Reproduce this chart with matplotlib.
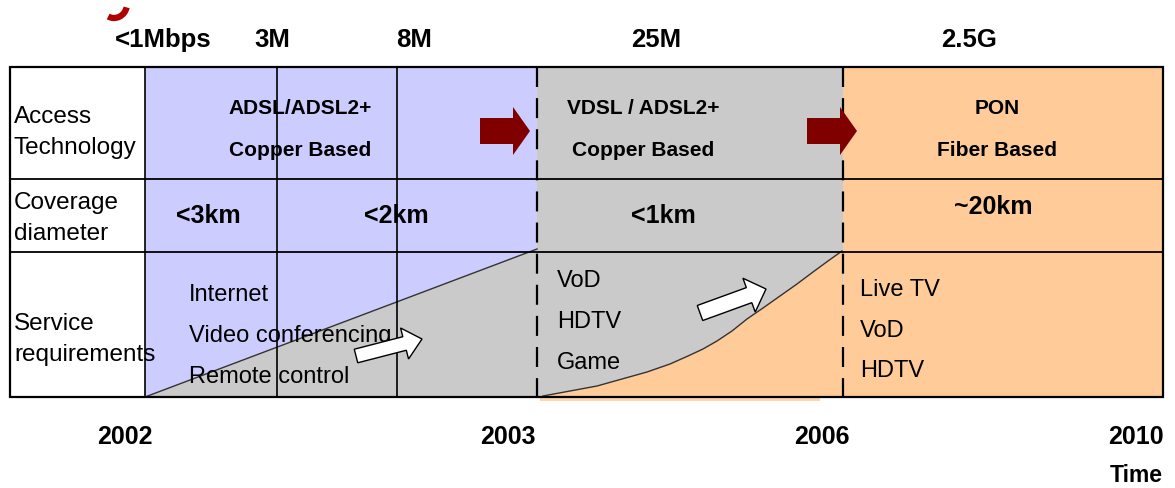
import matplotlib
matplotlib.use("Agg")
import matplotlib.pyplot as plt
from matplotlib.patches import Polygon, Rectangle, FancyArrow, Arc

# ---------------- data ----------------
speed_labels = ["<1Mbps", "3M", "8M", "25M", "2.5G"]
speed_x = [163, 272, 414, 656, 969]
year_labels = ["2002", "2003", "2006", "2010"]
year_x = [125, 508, 822, 1136]
row_labels = [["Access", "Technology"], ["Coverage", "diameter"], ["Service", "requirements"]]
era_tech = [["ADSL/ADSL2+", "Copper Based"], ["VDSL / ADSL2+", "Copper Based"], ["PON", "Fiber Based"]]
era_tech_x = [300, 643, 997]
coverage = ["<3km", "<2km", "<1km", "~20km"]
coverage_x = [208, 396, 663, 993]
coverage_y = [216, 216, 216, 207]
services = [["Internet", "Video conferencing", "Remote control"],
            ["VoD", "HDTV", "Game"],
            ["Live TV", "VoD", "HDTV"]]
services_x = [189, 557, 860]
services_y = [[295, 336, 377], [281, 322, 363], [290, 331, 371]]

# layout of the table (pixels)
table_left, table_right = 10, 1163
table_top, table_bottom = 68, 398
row_lines = [180, 253]
label_col = 145
solid_cols = [277, 397]
dashed_cols = [537, 843]
# transition curve gray -> orange in service row
curve_x = [543, 570, 597, 622, 647, 670, 688, 703, 717, 732, 747, 763, 780, 797, 813, 828, 842]
curve_y = [397, 392, 387, 380, 373, 365, 357, 350, 342, 332, 320, 309, 297, 285, 273, 262, 252]

blue = "#CCCCFF"
gray = "#CACACA"
orange = "#FFCC99"

narrow = ["Liberation Sans Narrow", "Liberation Sans", "DejaVu Sans"]
regular = ["Liberation Sans", "DejaVu Sans"]
plt.rcParams["font.family"] = regular

fig = plt.figure(figsize=(11.75, 4.89), dpi=100)
ax = fig.add_axes([0, 0, 1, 1])
ax.set_xlim(0, 1175)
ax.set_ylim(489, 0)
ax.axis("off")

# ---------------- fills ----------------
x0, x1, x2, x3 = label_col, dashed_cols[0], dashed_cols[1], table_right
ax.add_patch(Polygon([(x0, table_top), (x1, table_top), (x1, row_lines[1] - 3), (x0, table_bottom)],
                     closed=True, fc=blue, ec="none", zorder=1))
ax.add_patch(Polygon([(x0, table_bottom), (x1, row_lines[1] - 3), (x1, table_bottom)],
                     closed=True, fc=gray, ec="none", zorder=1))
ax.add_patch(Rectangle((x1, table_top), x2 - x1, table_bottom - table_top, fc=gray, ec="none", zorder=1))
ax.add_patch(Polygon(list(zip(curve_x, curve_y)) + [(x2, table_bottom)],
                     closed=True, fc=orange, ec="none", zorder=1))
ax.add_patch(Rectangle((x2, table_top), x3 - x2, table_bottom - table_top, fc=orange, ec="none", zorder=1))
# slight orange bleed below the bottom border
ax.add_patch(Rectangle((x1 + 3, table_bottom), 280, 4, fc=orange, ec="none", alpha=0.8, zorder=1))

# transition lines
ax.plot([x0, x1], [table_bottom, row_lines[1] - 3], color="#333333", lw=1.0, zorder=2)
ax.plot(curve_x, curve_y, color="#333333", lw=1.0, zorder=2)

# ---------------- grid ----------------
ax.add_patch(Rectangle((table_left, table_top), table_right - table_left, table_bottom - table_top,
                       fc="none", ec="black", lw=1.6, zorder=4))
for y in row_lines:
    ax.plot([table_left, table_right], [y, y], color="black", lw=1.3, zorder=4)
for x in [label_col] + solid_cols:
    ax.plot([x, x], [table_top, table_bottom], color="black", lw=1.2, zorder=4)
for x in dashed_cols:
    ax.plot([x, x], [table_top, table_bottom], color="black", lw=1.6, zorder=4,
            linestyle=(0, (9, 5)))

# ---------------- arrows ----------------
for ax_x in [480, 807]:
    ax.add_patch(FancyArrow(ax_x, 132, 50, 0, width=26, head_width=48, head_length=17,
                            length_includes_head=True, fc="#800000", ec="none", zorder=5))
for (sx, sy, dx, dy, w, hw) in [(356, 357, 66, -17, 14, 32), (700, 314, 66, -24, 16, 36)]:
    ax.add_patch(FancyArrow(sx, sy, dx, dy, width=w, head_width=hw, head_length=18,
                            length_includes_head=True, fc="white", ec="black", lw=1.0, zorder=6))

# small red mark top-left (remnant of a logo)
ax.add_patch(Arc((114, 5), 26, 28, theta1=15, theta2=115, color="#B00000", lw=4.5, zorder=3))

# ---------------- text ----------------
for lab, x in zip(speed_labels, speed_x):
    ax.text(x, 40, lab, ha="center", va="center", fontsize=18.5, fontweight="bold", family=narrow)
for lab, x in zip(year_labels, year_x):
    ax.text(x, 437, lab, ha="center", va="center", fontsize=18, fontweight="bold", family=narrow)
ax.text(1163, 476, "Time", ha="right", va="center", fontsize=16.5, fontweight="bold", family=narrow)

row_label_y = [[117, 148], [203, 234], [324, 355]]
for lines, ys in zip(row_labels, row_label_y):
    for t, y in zip(lines, ys):
        ax.text(14, y, t, ha="left", va="center", fontsize=17.5, family=regular, zorder=7)

for lines, x in zip(era_tech, era_tech_x):
    for t, y in zip(lines, [108, 150]):
        ax.text(x, y, t, ha="center", va="center", fontsize=15, fontweight="bold", family=narrow, zorder=3)

for t, x, y in zip(coverage, coverage_x, coverage_y):
    ax.text(x, y, t, ha="center", va="center", fontsize=18, fontweight="bold", family=narrow, zorder=3)

for items, x, ys in zip(services, services_x, services_y):
    for t, y in zip(items, ys):
        ax.text(x, y, t, ha="left", va="center", fontsize=17, family=regular, zorder=3)

fig.savefig("out.png", dpi=100)
